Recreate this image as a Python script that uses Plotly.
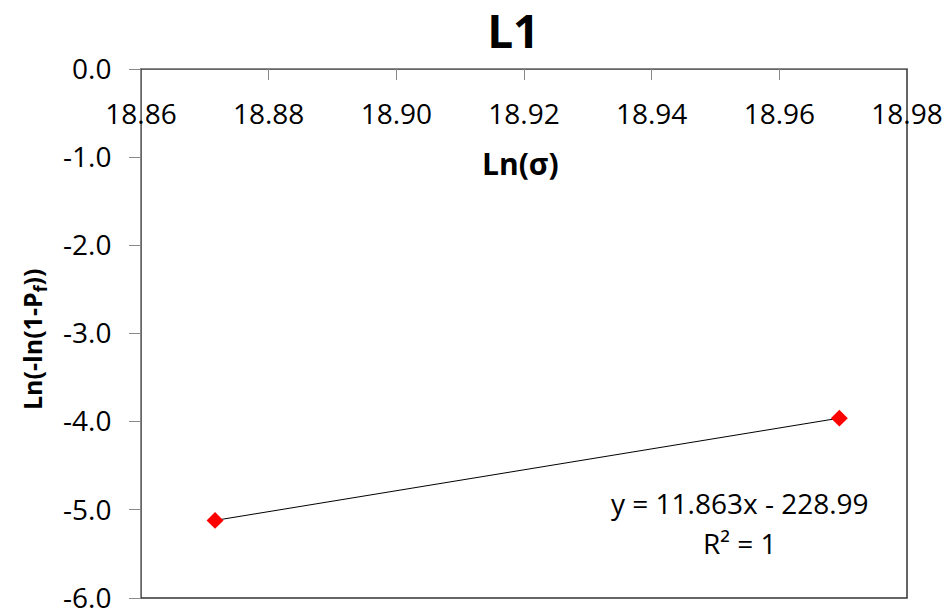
import numpy as np
import plotly.graph_objects as go

# data
ln_sigma = [18.8716, 18.9694]
ln_ln_pf = [-5.12, -3.96]

x_tickvals = [18.86, 18.88, 18.90, 18.92, 18.94, 18.96, 18.98]
x_ticktext = ["18.86", "18.88", "18.90", "18.92", "18.94", "18.96", "18.98"]
y_tickvals = [0, -1, -2, -3, -4, -5, -6]
y_ticktext = ["0.0", "-1.0", "-2.0", "-3.0", "-4.0", "-5.0", "-6.0"]

title_text = "L1"
x_title = "Ln(σ)"
y_title = "Ln(-ln(1-P<sub>f</sub>))"
eq_line1 = "y = 11.863x - 228.99"
eq_line2 = "R² = 1"

# linear trendline from the data
coef = np.polyfit(ln_sigma, ln_ln_pf, 1)
trend_x = [min(ln_sigma), max(ln_sigma)]
trend_y = [coef[0] * v + coef[1] for v in trend_x]

FONT = "Open Sans"
AXIS_GRAY = "#898989"

fig = go.Figure()
fig.add_trace(go.Scatter(
    x=trend_x, y=trend_y, mode="lines",
    line=dict(color="black", width=1), showlegend=False, hoverinfo="skip"))
fig.add_trace(go.Scatter(
    x=ln_sigma, y=ln_ln_pf, mode="markers",
    marker=dict(symbol="diamond", size=13, color="#ff0000", line=dict(width=0)),
    showlegend=False))

fig.update_layout(
    width=951, height=610,
    margin=dict(l=141, r=44, t=69, b=12, autoexpand=False),
    paper_bgcolor="white", plot_bgcolor="white",
    font=dict(family=FONT, size=28, color="black"),
    title=dict(text="<b>%s</b>" % title_text, x=0.486, xref="paper", xanchor="center",
               y=1 - 32 / 610, yref="container", yanchor="middle",
               font=dict(family=FONT, size=46, color="black")),
    xaxis=dict(
        range=[18.86, 18.98], side="top", anchor="y", automargin=False,
        tickvals=x_tickvals, ticktext=x_ticktext,
        ticks="inside", ticklen=11, tickcolor=AXIS_GRAY, tickwidth=1,
        ticklabelposition="inside", ticklabeloverflow="allow", ticklabelstandoff=27,
        showline=True, linecolor=AXIS_GRAY, linewidth=1,
        showgrid=False, zeroline=False,
        tickfont=dict(family=FONT, size=28, color="black")),
    yaxis=dict(
        range=[-6, 0], automargin=False,
        tickvals=y_tickvals, ticktext=y_ticktext,
        ticks="outside", ticklen=11, tickcolor=AXIS_GRAY, tickwidth=1,
        ticklabelstandoff=12, ticklabeloverflow="allow",
        showline=True, linecolor=AXIS_GRAY, linewidth=1,
        showgrid=False, zeroline=False,
        tickfont=dict(family=FONT, size=28, color="black")),
    shapes=[dict(type="rect", xref="paper", yref="paper", x0=0, x1=1, y0=0, y1=1,
                 line=dict(color="#333333", width=1.5), layer="below")],
    annotations=[
        dict(text="<b>%s</b>" % x_title, xref="paper", yref="paper",
             x=(520 - 141) / 766, y=(598 - 163) / 529, xanchor="center", yanchor="middle",
             showarrow=False, font=dict(family=FONT, size=30, color="black")),
        dict(text="<b>%s</b>" % y_title, xref="paper", yref="paper",
             x=(33 - 141) / 766, y=(598 - 339) / 529, xanchor="center", yanchor="middle",
             textangle=-90, showarrow=False, font=dict(family=FONT, size=25, color="black")),
        dict(text=eq_line1, xref="paper", yref="paper",
             x=(740 - 141) / 766, y=(598 - 503) / 529, xanchor="center", yanchor="middle",
             showarrow=False, font=dict(family=FONT, size=28, color="black")),
        dict(text=eq_line2, xref="paper", yref="paper",
             x=(740 - 141) / 766, y=(598 - 543) / 529, xanchor="center", yanchor="middle",
             showarrow=False, font=dict(family=FONT, size=28, color="black")),
    ],
)

fig.write_html("out.html")
